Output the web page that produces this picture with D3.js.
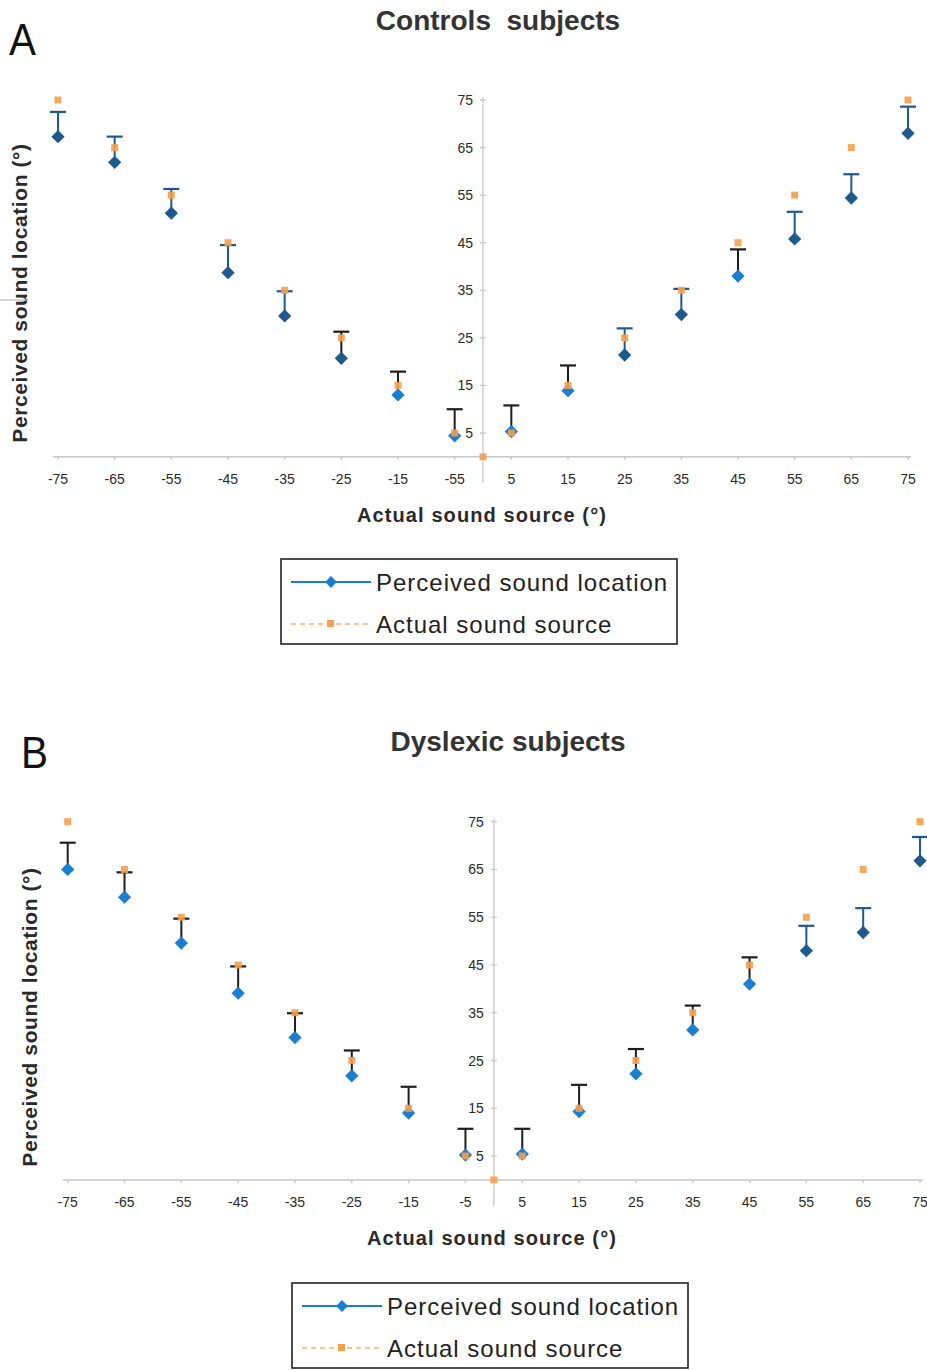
<!DOCTYPE html>
<html>
<head>
<meta charset="utf-8">
<script src="https://cdn.jsdelivr.net/npm/d3@7"></script>
<style>
  html, body { margin: 0; padding: 0; background: #fff; }
  svg { display: block; }
  text { white-space: pre; }
</style>
</head>
<body>
<svg id="chart" width="927" height="1370"></svg>
<script>
// ---------- DATA ----------
const sourceAngles = [-75, -65, -55, -45, -35, -25, -15, -5, 5, 15, 25, 35, 45, 55, 65, 75];
const yTickValues = [75, 65, 55, 45, 35, 25, 15, 5];
const xTickLabelsA = ["-75", "-65", "-55", "-45", "-35", "-25", "-15", "-55", "5", "15", "25", "35", "45", "55", "65", "75"];
const xTickLabelsB = ["-75", "-65", "-55", "-45", "-35", "-25", "-15", "-5", "5", "15", "25", "35", "45", "55", "65", "75"];

// Controls: perceived mean and upper error (SD)
const controlsPerceived = [67.3, 61.9, 51.2, 38.7, 29.6, 20.7, 13.0, 4.4, 5.3, 13.9, 21.4, 29.9, 38.0, 45.8, 54.4, 68.0];
const controlsError     = [5.2, 5.4, 5.1, 5.8, 5.2, 5.6, 4.9, 5.6, 5.5, 5.3, 5.6, 5.4, 5.6, 5.7, 5.0, 5.6];

// Dyslexics: perceived mean and upper error (SD)
const dyslexicPerceived = [65.0, 59.2, 49.6, 39.1, 29.8, 21.8, 14.0, 5.2, 5.4, 14.3, 22.2, 31.4, 41.0, 48.0, 51.8, 66.8];
const dyslexicError     = [5.6, 5.2, 5.1, 5.6, 5.1, 5.3, 5.5, 5.5, 5.3, 5.6, 5.2, 5.1, 5.6, 5.2, 5.1, 5.0];

// Actual sound source series (includes the origin)
const actualX = [-75, -65, -55, -45, -35, -25, -15, -5, 0, 5, 15, 25, 35, 45, 55, 65, 75];
const actualY = [75, 65, 55, 45, 35, 25, 15, 5, 0, 5, 15, 25, 35, 45, 55, 65, 75];

// Legend entries
const legendLabels = ["Perceived sound location", "Actual sound source"];

// ---------- STYLE (per-point tones as seen in the scan) ----------
const toneA = ["d","d","d","d","d","d","b","b","b","b","d","d","b","d","d","d"];
const errToneA = ["d","d","d","d","d","k","k","k","k","k","d","d","k","d","d","d"];
const toneB = ["b","b","b","b","b","b","b","b","b","b","b","b","b","d","d","d"];
const errToneB = ["k","k","k","k","k","k","k","k","k","k","k","k","k","d","d","d"];

const COL = { d: "#1f5a8e", b: "#1a7fd2", k: "#1e1e1e" };
const ORANGE = "#f4a04e";
const TEXT = "#2a2a2a";
const AXIS = "#c8c8c8";

const svg = d3.select("#chart");
const font = "'Liberation Sans', Arial, sans-serif";

function drawPanel(cfg) {
  const g = svg.append("g");
  const x = d3.scaleLinear().domain([-75, 75]).range(cfg.xRange);
  const y = d3.scaleLinear().domain([0, 75]).range(cfg.yRange);
  const x0 = x(0), y0 = y(0);

  // Letter and title
  g.append("text").attr("x", cfg.letterPos[0]).attr("y", cfg.letterPos[1])
    .attr("font-family", font).attr("font-size", 44).attr("fill", "#111")
    .attr("transform", `translate(${cfg.letterPos[0]},0) scale(0.92,1) translate(${-cfg.letterPos[0]},0)`)
    .text(cfg.letter);
  g.append("text").attr("x", cfg.titlePos[0]).attr("y", cfg.titlePos[1])
    .attr("text-anchor", "middle").attr("font-family", font).attr("font-weight", "bold")
    .attr("font-size", 28).attr("fill", "#333").text(cfg.title);

  // X axis line
  g.append("line").attr("x1", cfg.xRange[0] - 5).attr("x2", cfg.xRange[1] + 3)
    .attr("y1", y0).attr("y2", y0).attr("stroke", AXIS).attr("stroke-width", 1.5);
  g.selectAll(".xt").data(sourceAngles).enter().append("line")
    .attr("x1", d => x(d)).attr("x2", d => x(d))
    .attr("y1", y0).attr("y2", y0 + 3).attr("stroke", AXIS).attr("stroke-width", 1.5);
  g.selectAll(".xl").data(sourceAngles).enter().append("text")
    .attr("x", d => x(d)).attr("y", y0 + 27)
    .attr("text-anchor", "middle").attr("font-family", font).attr("font-size", 14)
    .attr("fill", TEXT).text((d, i) => cfg.xLabels[i]);

  // Y axis line at x=0
  g.append("line").attr("x1", x0).attr("x2", x0)
    .attr("y1", y(75) - 3).attr("y2", y0 + 26).attr("stroke", AXIS).attr("stroke-width", 1.3);
  g.selectAll(".yt").data(yTickValues).enter().append("line")
    .attr("x1", x0 - 3).attr("x2", x0 + 3)
    .attr("y1", d => y(d)).attr("y2", d => y(d)).attr("stroke", AXIS).attr("stroke-width", 1.3);
  g.selectAll(".yl").data(yTickValues).enter().append("text")
    .attr("x", x0 - 10).attr("y", d => y(d) + 5)
    .attr("text-anchor", "end").attr("font-family", font).attr("font-size", 14)
    .attr("fill", TEXT).text(d => d);

  // Axis titles
  g.append("text").attr("x", cfg.xTitlePos[0]).attr("y", cfg.xTitlePos[1])
    .attr("text-anchor", "middle").attr("font-family", font).attr("font-weight", "bold")
    .attr("font-size", 20).attr("letter-spacing", 1.1).attr("fill", TEXT).text("Actual sound source (°)");
  g.append("text")
    .attr("transform", `translate(${cfg.yTitlePos[0]},${cfg.yTitlePos[1]}) rotate(-90)`)
    .attr("text-anchor", "middle").attr("font-family", font).attr("font-weight", "bold")
    .attr("font-size", 21).attr("letter-spacing", 0.6).attr("fill", TEXT).text("Perceived sound location (°)");

  // Error bars (upper only)
  const eg = g.append("g");
  sourceAngles.forEach((a, i) => {
    const c = COL[cfg.errTone[i]];
    const top = cfg.mean[i] + cfg.err[i];
    eg.append("line").attr("x1", x(a)).attr("x2", x(a))
      .attr("y1", y(cfg.mean[i])).attr("y2", y(top)).attr("stroke", c).attr("stroke-width", 2);
    eg.append("line").attr("x1", x(a) - 8).attr("x2", x(a) + 8)
      .attr("y1", y(top)).attr("y2", y(top)).attr("stroke", c).attr("stroke-width", 2.2);
  });

  // Perceived diamonds (square rotated 45°)
  const dsym = d3.symbol().type(d3.symbolSquare).size(88);
  g.selectAll(".dm").data(sourceAngles).enter().append("path")
    .attr("d", dsym)
    .attr("transform", (a, i) => `translate(${x(a)},${y(cfg.mean[i])}) rotate(45)`)
    .attr("fill", (a, i) => COL[cfg.tone[i]]);

  // Actual squares
  g.selectAll(".sq").data(actualX).enter().append("rect")
    .attr("x", d => x(d) - 3.5).attr("y", (d, i) => y(actualY[i]) - 3.5)
    .attr("width", 7).attr("height", 7).attr("fill", ORANGE).attr("opacity", 0.9);

  // Legend
  const L = cfg.legend;
  const lg = g.append("g").attr("transform", `translate(${L[0]},${L[1]})`);
  lg.append("rect").attr("x", 0).attr("y", 0).attr("width", 396).attr("height", 85)
    .attr("fill", "#fff").attr("stroke", "#222").attr("stroke-width", 1.6);
  lg.append("line").attr("x1", 10).attr("x2", 90).attr("y1", 23).attr("y2", 23)
    .attr("stroke", "#1a7fd2").attr("stroke-width", 2);
  lg.append("path").attr("d", d3.symbol().type(d3.symbolSquare).size(70))
    .attr("transform", "translate(50,23) rotate(45)").attr("fill", "#1a7fd2");
  lg.append("line").attr("x1", 10).attr("x2", 90).attr("y1", 65).attr("y2", 65)
    .attr("stroke", ORANGE).attr("stroke-width", 1.4).attr("stroke-dasharray", "5,4").attr("opacity", 0.8);
  lg.append("rect").attr("x", 46).attr("y", 61).attr("width", 7).attr("height", 7).attr("fill", ORANGE);
  legendLabels.forEach((t, i) => {
    lg.append("text").attr("x", 95).attr("y", 32 + i * 42)
      .attr("font-family", font).attr("font-size", 24).attr("letter-spacing", 1.0)
      .attr("fill", "#222").text(t);
  });
}

drawPanel({
  letter: "A", letterPos: [9, 55], title: "Controls  subjects", titlePos: [498, 30],
  xRange: [58, 908], yRange: [456.8, 100],
  xLabels: xTickLabelsA, mean: controlsPerceived, err: controlsError,
  tone: toneA, errTone: errToneA,
  xTitlePos: [482, 522], yTitlePos: [27, 293], legend: [281, 559]
});

drawPanel({
  letter: "B", letterPos: [21, 768], title: "Dyslexic subjects", titlePos: [508, 751],
  xRange: [67.7, 920], yRange: [1179.9, 821.7],
  xLabels: xTickLabelsB, mean: dyslexicPerceived, err: dyslexicError,
  tone: toneB, errTone: errToneB,
  xTitlePos: [492, 1245], yTitlePos: [37, 1017], legend: [292, 1283]
});

// stray mark at left edge in the scan
svg.append("line").attr("x1", 0).attr("x2", 28).attr("y1", 300).attr("y2", 300)
  .attr("stroke", "#bbb").attr("stroke-width", 1.2);
</script>
</body>
</html>
